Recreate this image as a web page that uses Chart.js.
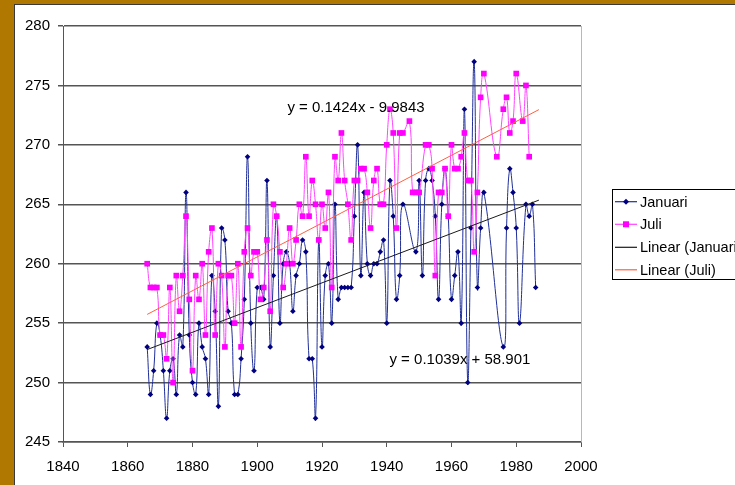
<!DOCTYPE html>
<html><head><meta charset="utf-8">
<script src="https://cdn.jsdelivr.net/npm/chart.js@4/dist/chart.umd.min.js"></script>
<style>
html,body{margin:0;padding:0;width:735px;height:485px;overflow:hidden;background:#B07800;}
#frame{position:absolute;left:14px;top:4px;width:760px;height:500px;background:#fff;border-left:1px solid #3a3a3a;border-top:1px solid #3a3a3a;}
canvas{position:absolute;left:0;top:0;}
</style></head><body>
<div id="frame"><canvas id="c" width="740" height="480"></canvas></div>
<script>
// ---- data ----
const janYears = [1866,1867,1868,1869,1870,1871,1872,1873,1874,1875,1876,1877,1878,1879,1880,1881,1882,1883,1884,1885,1886,1887,1888,1889,1890,1891,1892,1893,1894,1895,1896,1897,1898,1899,1900,1901,1902,1903,1904,1905,1906,1907,1908,1909,1910,1911,1912,1913,1914,1915,1916,1917,1918,1919,1920,1921,1922,1923,1924,1925,1926,1927,1928,1929,1930,1931,1932,1933,1934,1935,1936,1937,1938,1939,1940,1941,1942,1943,1944,1945,1949,1950,1951,1952,1953,1954,1955,1956,1957,1958,1959,1960,1961,1962,1963,1964,1965,1966,1967,1968,1969,1970,1976,1977,1978,1979,1980,1981,1983,1984,1985,1986];
const janValues = [253,249,251,255,254,251,247,251,252,249,254,253,266,254,250,249,255,253,252,249,259,256,248,263,262,256,255,249,249,252,257,269,255,251,258,258,257,267,253,259,264,255,260,261,260,256,259,260,262,261,252,252,247,262,253,259,260,255,265,257,258,258,258,258,264,270,259,266,260,259,260,260,261,262,255,267,264,257,259,265,261,267,259,267,268,267,264,257,265,268,264,257,259,261,255,273,250,263,277,258,263,266,253,263,268,266,263,255,265,264,265,258];

const juliYears = [1866,1867,1868,1869,1870,1871,1872,1873,1874,1875,1876,1877,1878,1879,1880,1881,1882,1883,1884,1885,1886,1887,1888,1889,1890,1891,1892,1893,1894,1895,1896,1897,1898,1899,1900,1901,1902,1903,1904,1905,1906,1907,1908,1909,1910,1911,1912,1913,1914,1915,1916,1917,1918,1919,1920,1921,1922,1923,1924,1925,1926,1927,1928,1929,1930,1931,1932,1933,1934,1935,1936,1937,1938,1939,1940,1941,1942,1943,1944,1945,1947,1948,1949,1950,1952,1953,1954,1955,1956,1957,1958,1959,1960,1961,1962,1963,1964,1965,1966,1967,1968,1969,1970,1974,1976,1977,1978,1979,1980,1982,1983,1984];
const juliValues = [260,258,258,258,254,254,252,258,250,259,256,259,264,257,251,259,257,260,254,261,263,254,260,259,253,259,259,255,260,253,261,263,259,261,261,257,258,262,256,265,264,261,258,260,263,260,262,265,264,269,264,267,265,262,265,263,266,258,269,267,271,267,265,262,267,267,268,268,266,263,267,268,265,265,270,273,271,263,271,271,272,266,266,266,270,270,268,259,266,266,268,264,270,268,268,269,271,267,267,261,266,274,276,269,273,274,271,272,276,272,275,269];

// trend lines (equations shown on the chart)
const janTrend = { slope: 0.1039, intercept: 58.901, label: 'y = 0.1039x + 58.901' };
const juliTrend = { slope: 0.1424, intercept: -9.9843, label: 'y = 0.1424x - 9.9843' };
const trendRange = [1866, 1987];

const xTicks = [1840,1860,1880,1900,1920,1940,1960,1980,2000];
const yTicks = [245,250,255,260,265,270,275,280];
const seriesNames = ['Januari','Juli','Linear (Januari)','Linear (Juli)'];

// ---- build ----
const toPts = (xs, ys) => xs.map((x, i) => ({ x: x, y: ys[i] }));
const trendPts = t => trendRange.map(x => ({ x: x, y: t.slope * x + t.intercept }));

const FONT = "'Liberation Sans', Arial, sans-serif";
Chart.defaults.font.family = FONT;

const framePlugin = {
  id: 'framePlugin',
  afterDraw(chart) {
    const ctx = chart.ctx, a = chart.chartArea;
    const xs = chart.scales.x, ys = chart.scales.y;
    ctx.save();
    ctx.strokeStyle = '#b8b8b8'; ctx.lineWidth = 1;
    ctx.beginPath(); ctx.moveTo(Math.round(a.right) + 0.5, a.top); ctx.lineTo(Math.round(a.right) + 0.5, a.bottom); ctx.stroke();
    ctx.fillStyle = '#000'; ctx.font = '15px ' + FONT; ctx.textAlign = 'center'; ctx.textBaseline = 'middle';
    ctx.fillText(juliTrend.label, xs.getPixelForValue(1930.5), ys.getPixelForValue(273.1));
    ctx.fillText(janTrend.label, xs.getPixelForValue(1962.6), ys.getPixelForValue(251.9));
    const lx = 597, ly = 184, lh = 90;
    ctx.fillStyle = '#fff'; ctx.fillRect(lx, ly, 200, lh);
    ctx.strokeStyle = '#000'; ctx.lineWidth = 1;
    ctx.strokeRect(lx + 0.5, ly + 0.5, 200, lh);
    const rows = [196.7, 219.3, 242.3, 264.8];
    const legendLine = ['#1f2f99', '#FF44FF', '#1a1a1a', '#FF6040'];
    chart.data.datasets.forEach((ds, i) => {
      const y = rows[i];
      ctx.strokeStyle = legendLine[i]; ctx.lineWidth = 1.2;
      ctx.beginPath(); ctx.moveTo(lx + 3, y); ctx.lineTo(lx + 25, y); ctx.stroke();
      if (i === 0) {
        ctx.fillStyle = ds.pointBackgroundColor;
        ctx.beginPath(); ctx.moveTo(lx + 14, y - 3); ctx.lineTo(lx + 17, y); ctx.lineTo(lx + 14, y + 3); ctx.lineTo(lx + 11, y); ctx.closePath(); ctx.fill();
      } else if (i === 1) {
        ctx.fillStyle = ds.pointBackgroundColor;
        ctx.fillRect(lx + 11, y - 3, 6, 6);
      }
      ctx.fillStyle = '#000'; ctx.font = '14.5px ' + FONT; ctx.textAlign = 'left'; ctx.textBaseline = 'middle';
      ctx.fillText(ds.label, lx + 28, y + 1);
    });
    ctx.restore();
  }
};

new Chart(document.getElementById('c'), {
  type: 'line',
  data: {
    datasets: [
      { label: seriesNames[0], data: toPts(janYears, janValues), borderColor: '#1f2f99', borderWidth: 1,
        pointStyle: 'rectRot', pointRadius: 2.8, pointBackgroundColor: '#000080', pointBorderColor: '#000080', pointBorderWidth: 0,
        tension: 0.45, order: 2 },
      { label: seriesNames[1], data: toPts(juliYears, juliValues), borderColor: '#FF44FF', borderWidth: 1,
        pointStyle: 'rect', pointRadius: 4, pointBackgroundColor: '#FF00FF', pointBorderColor: '#FF00FF', pointBorderWidth: 0,
        tension: 0.45, order: 1 },
      { label: seriesNames[2], data: trendPts(janTrend), borderColor: '#1a1a1a', borderWidth: 1, pointRadius: 0, tension: 0, order: 0 },
      { label: seriesNames[3], data: trendPts(juliTrend), borderColor: '#FF6040', borderWidth: 1, pointRadius: 0, tension: 0, order: 0 }
    ]
  },
  options: {
    responsive: false, animation: false, devicePixelRatio: 1,
    layout: { padding: { left: 0, top: 21, right: 174, bottom: 0 } },
    plugins: { legend: { display: false }, tooltip: { enabled: false } },
    scales: {
      x: {
        type: 'linear', min: 1840, max: 2000,
        afterBuildTicks: s => { s.ticks = xTicks.map(v => ({ value: v })); },
        afterFit: s => { s.height = 43; },
        grid: { drawOnChartArea: false, color: '#555', tickLength: 5, lineWidth: 1 },
        border: { color: '#555', width: 1.5 },
        ticks: { color: '#000', font: { size: 15 }, padding: 11, maxRotation: 0, autoSkip: false, callback: v => String(v) }
      },
      y: {
        type: 'linear', min: 245, max: 280,
        afterBuildTicks: s => { s.ticks = yTicks.map(v => ({ value: v })); },
        afterFit: s => { s.width = 48; },
        grid: { color: '#555', lineWidth: 1.5, tickLength: 5 },
        border: { color: '#555', width: 1 },
        ticks: { color: '#000', font: { size: 15 }, padding: 8, callback: v => String(v) }
      }
    }
  },
  plugins: [framePlugin]
});
</script>
</body></html>
